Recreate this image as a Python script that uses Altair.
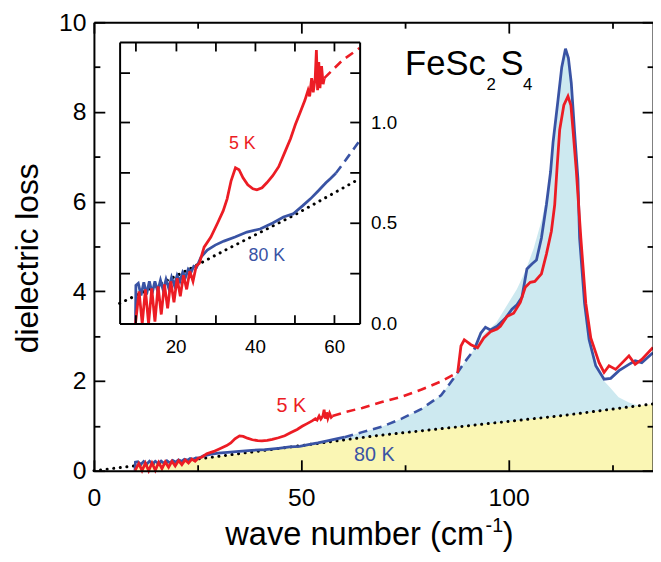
import altair as alt
import pandas as pd

FONT = "Liberation Sans, Arial, Helvetica, sans-serif"
RED = "#ec1c24"
BLUE = "#3953a4"
LIGHTBLUE = "#cde9f0"
YELLOW = "#faf6b4"

# ---------------- data ----------------
# measured low-frequency spectra (shared by main plot and inset)
k80_low_x = [9.9, 10.0, 10.6, 11.3, 12.0, 12.7, 13.4, 14.1, 14.8, 15.5, 16.2, 16.9, 17.6, 18.3,
             19.0, 19.7, 20.4, 21.1, 21.8, 22.5, 23.2, 23.9, 24.6, 25.3, 26.4, 28.0, 30.0, 32.2,
             35.0, 38.0, 41.3, 44.5, 47.2, 49.6, 52.0, 54.0, 56.0, 57.9, 59.0, 60.4]
k80_low_y = [0.0, 0.19, 0.20, 0.14, 0.205, 0.145, 0.21, 0.15, 0.21, 0.16, 0.215, 0.165, 0.22, 0.175,
             0.23, 0.19, 0.24, 0.21, 0.255, 0.23, 0.27, 0.255, 0.285, 0.28, 0.33, 0.365, 0.39, 0.41,
             0.43, 0.455, 0.47, 0.50, 0.53, 0.545, 0.585, 0.62, 0.66, 0.70, 0.72, 0.747]

k5_low_x = [9.9, 10.8, 11.6, 12.4, 13.2, 14.0, 14.8, 15.6, 16.4, 17.2, 18.0, 18.8, 19.6, 20.4,
            21.2, 22.0, 22.8, 23.6, 24.4, 25.2, 26.0, 27.2, 28.9, 30.6, 32.0, 33.0, 34.0, 35.1,
            36.0, 37.0, 38.2, 39.5, 40.5, 41.8, 43.0, 44.5, 46.0, 47.5, 49.0, 50.2, 51.4, 52.6,
            53.4, 53.8, 54.3, 54.7, 55.2, 55.5, 55.8, 56.1, 56.4, 56.8, 57.2, 57.5]
k5_low_y = [0.0, 0.16, 0.0, 0.17, 0.0, 0.175, 0.01, 0.185, 0.045, 0.195, 0.075, 0.21, 0.105, 0.225,
            0.135, 0.24, 0.17, 0.26, 0.21, 0.285, 0.30, 0.38, 0.43, 0.50, 0.56, 0.62, 0.71, 0.775,
            0.765, 0.725, 0.69, 0.67, 0.665, 0.675, 0.70, 0.735, 0.78, 0.85, 0.92, 0.99, 1.05, 1.11,
            1.16, 1.13, 1.22, 1.15, 1.22, 1.36, 1.16, 1.30, 1.17, 1.28, 1.19, 1.22]

# measured phonon region (main plot)
k80_high_x = [91.7, 93.3, 94.4, 95.6, 97.2, 99.2, 100.8, 102.0, 103.2, 104.4, 105.6, 106.7, 107.9,
              109.1, 110.1, 110.7, 111.9, 112.8, 113.7, 114.4, 115.1, 115.9, 116.7, 117.1, 118.3,
              119.4, 121.0, 123.0, 124.6, 126.6, 129.0, 130.5, 132.1, 134.8]
k80_high_y = [2.70, 3.07, 3.20, 3.14, 3.22, 3.40, 3.60, 3.70, 3.87, 4.50, 4.61, 4.70, 5.19,
              5.93, 6.66, 7.32, 8.27, 9.00, 9.41, 9.20, 8.64, 7.54, 6.51, 5.19, 3.73,
              2.92, 2.34, 2.04, 2.06, 2.23, 2.37, 2.45, 2.41, 2.63]
k5_high_x = [87.7, 88.5, 89.3, 90.9, 92.5, 94.0, 95.6, 97.2, 98.0, 99.6, 101.2, 102.8, 104.0,
             105.2, 106.3, 107.9, 109.1, 110.3, 111.1, 111.7, 112.3, 113.3, 114.3, 115.0, 115.5,
             116.3, 117.4, 118.6, 119.8, 121.8, 123.0, 124.2, 125.8, 127.4, 129.0, 130.5, 132.1, 134.8]
k5_high_y = [2.18, 2.78, 2.92, 2.81, 2.74, 2.96, 3.10, 3.16, 3.22, 3.44, 3.51, 3.75, 4.09,
             4.20, 4.22, 4.39, 4.83, 5.34, 5.93, 6.80, 7.60, 8.15, 8.35, 8.15, 7.61,
             6.70, 5.19, 3.73, 2.96, 2.41, 2.19, 2.34, 2.26, 2.41, 2.56, 2.37, 2.48, 2.75]

# dashed extrapolations, main plot
k80_ext_x = [60.4, 64.7, 69.4, 74.2, 79.0, 83.7, 86.9, 89.3, 91.7]
k80_ext_y = [0.747, 0.86, 0.98, 1.16, 1.38, 1.68, 2.08, 2.41, 2.70]
k5_ext_x = [57.5, 60.7, 64.7, 69.4, 74.2, 79.0, 83.7, 86.9, 87.7]
k5_ext_y = [1.22, 1.31, 1.40, 1.53, 1.65, 1.81, 1.99, 2.15, 2.18]

# dashed extrapolations, inset
ins_k80_ext_x = [60.4, 63.5, 66.4]
ins_k80_ext_y = [0.747, 0.83, 0.91]
ins_k5_ext_x = [57.5, 62.1, 66.4]
ins_k5_ext_y = [1.22, 1.31, 1.37]

# dotted background
bg_x = [0, 10, 25, 45, 68, 90, 113, 134.8]
bg_y = [0, 0.11, 0.26, 0.50, 0.78, 1.00, 1.23, 1.49]
ins_bg_x = [5.9, 20, 33, 50, 66.4]
ins_bg_y = [0.10, 0.235, 0.37, 0.54, 0.72]

# phonon contribution (light blue fill envelope)
ph_x = [58, 60.4, 64.7, 69.4, 74.2, 79, 83.7, 86.9, 89.3, 91.7, 94, 97, 100, 102, 104, 106, 108,
        110, 111.9, 113.7, 115.1, 115.9, 116.7, 117.1, 118.3, 119.4, 121, 123, 124.5, 126.5, 129, 131]
ph_y = [0.66, 0.75, 0.86, 0.98, 1.16, 1.38, 1.68, 2.08, 2.41, 2.70, 3.05, 3.30, 3.75, 4.05, 4.45,
        4.95, 5.60, 6.50, 8.27, 9.41, 8.64, 7.54, 6.51, 5.19, 3.73, 2.92, 2.32, 2.00, 1.85, 1.64,
        1.52, 1.46]

main_lab_text = ["5 K", "80 K"]
main_lab_x = [47.6, 67.6]
main_lab_y = [1.45, 0.34]
ins_lab_text = ["5 K", "80 K"]
ins_lab_x = [36.8, 43.0]
ins_lab_y = [0.894, 0.334]

# ---------------- layout ----------------
W, H = 566, 454
XS = alt.Scale(domain=[0, 134.8], nice=False, zero=False)
YS = alt.Scale(domain=[0, 10], nice=False, zero=False)
IXS = alt.Scale(domain=[5.9, 66.4], range=[26, 269], nice=False, zero=False)
IYS = alt.Scale(domain=[0, 1.4], range=[305, 20], nice=False, zero=False)


def df(xs, ys, seg=0):
    return pd.DataFrame({"x": xs, "y": ys, "i": list(range(len(xs))), "seg": seg})


def axis(orient, values, tick=0, labels=False, domain=False, offset=0, size=25, pad=0, fmt=None):
    kw = dict(orient=orient, values=values, labels=labels, domain=domain,
              ticks=tick > 0, tickColor="black", tickWidth=1.8,
              domainColor="black", domainWidth=2, grid=False, title=None,
              offset=offset, labelFont=FONT, labelFontSize=size, labelColor="black",
              labelPadding=pad, labelFlush=False, labelOverlap=False, zindex=1)
    if tick > 0:
        kw["tickSize"] = alt.ExprRef(expr=str(-tick))   # inward ticks
    else:
        kw["tickSize"] = 0
    if fmt:
        kw["format"] = fmt
    return alt.Axis(**kw)


def line(data, xs, ys, xa=None, ya=None, **mk):
    return alt.Chart(data).mark_line(**mk).encode(
        x=alt.X("x:Q", scale=xs, axis=xa),
        y=alt.Y("y:Q", scale=ys, axis=ya),
        order=alt.Order("i:Q"),
        detail="seg:N",
    )


def area(data, xs, ys, xa=None, ya=None, **mk):
    return alt.Chart(data).mark_area(**mk).encode(
        x=alt.X("x:Q", scale=xs, axis=xa),
        y=alt.Y("y:Q", scale=ys, axis=ya, stack=False),
    )


MAJ_X, MIN_X = [0, 50, 100], [25, 75, 125]
MAJ_Y, MIN_Y = [0, 2, 4, 6, 8, 10], [1, 3, 5, 7, 9]
DOT = dict(color="black", strokeWidth=3, strokeDash=[0.1, 6.6], strokeCap="round")

# main plot layers
phonon = area(df(ph_x, ph_y), XS, YS,
              axis("bottom", MAJ_X, labels=True, domain=True, pad=15),
              axis("left", MAJ_Y, labels=True, domain=True, pad=8),
              color=LIGHTBLUE, opacity=1)
yellow = area(df(bg_x, bg_y).query("x >= 10"), XS, YS,
              axis("bottom", MAJ_X, tick=11),
              axis("left", MAJ_Y, tick=11),
              color=YELLOW, opacity=1)
dotted = line(df(bg_x, bg_y), XS, YS,
              axis("bottom", MIN_X, tick=6),
              axis("left", MIN_Y, tick=6), **DOT)
b_ext = line(df(k80_ext_x, k80_ext_y), XS, YS,
             axis("top", MAJ_X, tick=11, domain=True),
             axis("right", MAJ_Y, tick=11, domain=True),
             color=BLUE, strokeWidth=2.6, strokeDash=[9, 6])
r_ext = line(df(k5_ext_x, k5_ext_y), XS, YS,
             axis("top", MIN_X, tick=6),
             axis("right", MIN_Y, tick=6),
             color=RED, strokeWidth=2.6, strokeDash=[9, 6])

b_main_df = pd.concat([df(k80_low_x, k80_low_y, 0), df(k80_high_x, k80_high_y, 1)])
r_main_df = pd.concat([df(k5_low_x, k5_low_y, 0), df(k5_high_x, k5_high_y, 1)])
b_main = line(b_main_df, XS, YS, color=BLUE, strokeWidth=2.8)
r_main = line(r_main_df, XS, YS, color=RED, strokeWidth=2.8)

mlab = pd.DataFrame({"t": main_lab_text, "x": main_lab_x, "y": main_lab_y, "c": [RED, BLUE]})
main_labels = alt.Chart(mlab).mark_text(font=FONT, fontSize=20, align="center", baseline="middle").encode(
    x=alt.X("x:Q", scale=XS, axis=None), y=alt.Y("y:Q", scale=YS, axis=None),
    text="t:N", color=alt.Color("c:N", scale=None))


def ptext(s, px, py, size, angle=0, align="left"):
    return alt.Chart(pd.DataFrame({"t": [s]})).mark_text(
        font=FONT, fontSize=size, align=align, baseline="alphabetic", color="black", angle=angle
    ).encode(text="t:N", x=alt.value(px), y=alt.value(py))


formula = [ptext("FeSc", 315, 53, 35), ptext("2", 397.5, 68.5, 17),
           ptext("S", 411.5, 53, 35), ptext("4", 434.5, 68.5, 17)]
titles = [ptext("dielectric loss", -57, 239, 32, angle=270, align="center"),
          ptext("wave number (cm", 133, 529, 33), ptext("-1", 396.5, 516, 20),
          ptext(")", 414, 529, 33)]

main = alt.layer(phonon, yellow, dotted, b_ext, r_ext, b_main, r_main, main_labels,
                 *formula, *titles).resolve_axis(x="independent", y="independent")

# inset layers
INS_X = [10, 20, 30, 40, 50, 60]
INS_Y = [0, 0.25, 0.5, 0.75, 1.0, 1.25]
i_dot = line(df(ins_bg_x, ins_bg_y), IXS, IYS,
             axis("top", INS_X, tick=9, domain=True, offset=-20),
             axis("left", INS_Y, tick=10, domain=True, offset=-26), **DOT)
i_blue = line(df(k80_low_x, k80_low_y), IXS, IYS,
              axis("bottom", INS_X, tick=9, offset=-(H - 305)),
              axis("right", INS_Y, tick=10, offset=-(W - 269)),
              color=BLUE, strokeWidth=2.8)
i_red = line(df(k5_low_x, k5_low_y), IXS, IYS,
             axis("bottom", [20, 40, 60], labels=True, domain=True, offset=-(H - 305), size=19, pad=14),
             axis("right", [0, 0.5, 1.0], labels=True, domain=True, offset=-(W - 269), size=19, pad=11,
                  fmt=".1f"),
             color=RED, strokeWidth=2.8)
i_bext = line(df(ins_k80_ext_x, ins_k80_ext_y), IXS, IYS,
              color=BLUE, strokeWidth=2.6, strokeDash=[9, 6])
i_rext = line(df(ins_k5_ext_x, ins_k5_ext_y), IXS, IYS,
              color=RED, strokeWidth=2.6, strokeDash=[9, 6])
ilab = pd.DataFrame({"t": ins_lab_text, "x": ins_lab_x, "y": ins_lab_y, "c": [RED, BLUE]})
ins_labels = alt.Chart(ilab).mark_text(font=FONT, fontSize=18, align="center", baseline="middle").encode(
    x=alt.X("x:Q", scale=IXS, axis=None), y=alt.Y("y:Q", scale=IYS, axis=None),
    text="t:N", color=alt.Color("c:N", scale=None))

inset = alt.layer(i_dot, i_blue, i_red, i_bext, i_rext, ins_labels).resolve_axis(
    x="independent", y="independent")

chart = alt.layer(main, inset).resolve_scale(x="independent", y="independent").properties(
    width=W, height=H,
    autosize=alt.AutoSizeParams(type="none"),
    padding={"left": 87, "top": 11, "right": 0, "bottom": 89},
).configure_view(stroke="transparent").configure(background="white")

chart.save("out.html", embed_options={"renderer": "svg", "actions": False})
